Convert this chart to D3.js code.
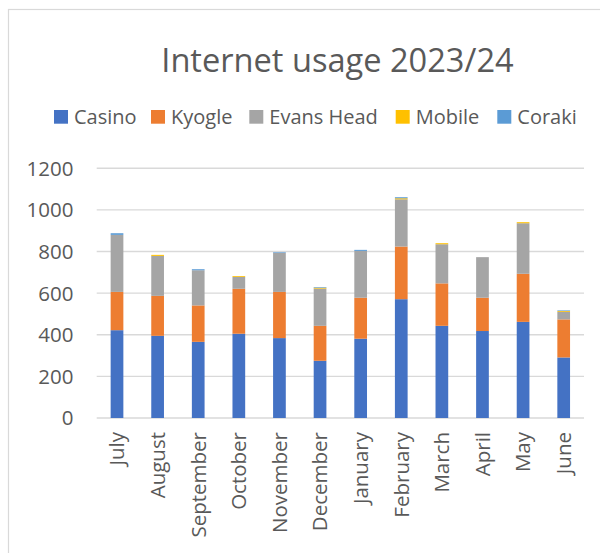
<!DOCTYPE html>
<html>
<head>
<meta charset="utf-8">
<script src="https://cdn.jsdelivr.net/npm/d3@7"></script>
<style>
  html, body { margin: 0; padding: 0; background: #fff; }
  svg { display: block; }
  text { font-family: "Open Sans", "Noto Sans", sans-serif; fill: #595959; }
</style>
</head>
<body>
<svg id="chart" width="600" height="553"></svg>
<script>
const months = ["July","August","September","October","November","December","January","February","March","April","May","June"];
const seriesNames = ["Casino","Kyogle","Evans Head","Mobile","Coraki"];
const casino = [422, 395, 366, 405, 384, 275, 381, 571, 443, 418, 462, 291];
const kyogle = [184, 192, 175, 216, 222, 168, 197, 253, 204, 160, 231, 183];
const evansHead = [274, 192, 169, 57, 188, 179, 225, 227, 188, 195, 243, 36];
const mobile = [0, 5, 0, 4, 0, 4, 0, 5, 5, 0, 5, 4];
const coraki = [8, 0, 5, 0, 3, 3, 5, 5, 0, 0, 0, 3];
const yTicks = [0, 200, 400, 600, 800, 1000, 1200];
const colors = ["#4472C4", "#ED7D31", "#A5A5A5", "#FFC000", "#5B9BD5"];
const title = "Internet usage 2023/24";

const seriesValues = [casino, kyogle, evansHead, mobile, coraki];
const table = months.map((m, i) => {
  const row = { month: m };
  seriesNames.forEach((s, j) => row[s] = seriesValues[j][i]);
  return row;
});

const svg = d3.select("#chart");
const grid = "#d9d9d9";

// chart border
svg.append("rect")
  .attr("x", 8.5).attr("y", 9.5)
  .attr("width", 640).attr("height", 600)
  .attr("fill", "none").attr("stroke", grid).attr("stroke-width", 1.2);

const x = d3.scaleBand().domain(months).range([96.7, 584]).paddingInner(0.687).paddingOuter(0.3435);
const y = d3.scaleLinear().domain([0, 1200]).range([418, 168.3]);

// gridlines
svg.append("g").selectAll("line").data(yTicks).join("line")
  .attr("x1", 96.7).attr("x2", 584)
  .attr("y1", d => y(d)).attr("y2", d => y(d))
  .attr("stroke", grid).attr("stroke-width", 1.4);

// y tick labels
svg.append("g").selectAll("text").data(yTicks).join("text")
  .attr("x", 73.5).attr("y", d => y(d))
  .attr("dy", "0.36em")
  .attr("text-anchor", "end")
  .attr("font-size", "20.5px")
  .text(d => d);

// stacked bars
const stack = d3.stack().keys(seriesNames)(table);
svg.append("g").selectAll("g").data(stack).join("g")
  .attr("fill", (d, i) => colors[i])
  .selectAll("rect").data(d => d).join("rect")
  .attr("x", d => x(d.data.month))
  .attr("width", x.bandwidth())
  .attr("y", d => y(d[1]))
  .attr("height", d => Math.max(0, y(d[0]) - y(d[1])));

// month labels
svg.append("g").selectAll("text").data(months).join("text")
  .attr("transform", d => `translate(${x(d) + x.bandwidth() / 2},432) rotate(-90)`)
  .attr("dy", "0.36em")
  .attr("text-anchor", "end")
  .attr("font-size", "20.5px")
  .text(d => d);

// title
svg.append("text")
  .attr("x", 337.5).attr("y", 71.7)
  .attr("text-anchor", "middle")
  .attr("font-size", "32.6px")
  .text(title);

// legend
const legendX = [54, 151, 249.3, 395.7, 497.3];
const lg = svg.append("g").selectAll("g").data(seriesNames).join("g")
  .attr("transform", (d, i) => `translate(${legendX[i]},110)`);
lg.append("rect").attr("width", 14).attr("height", 13.7).attr("fill", (d, i) => colors[i]);
lg.append("text").attr("x", 20).attr("y", 13.7).attr("font-size", "20px").text(d => d);
</script>
</body>
</html>
